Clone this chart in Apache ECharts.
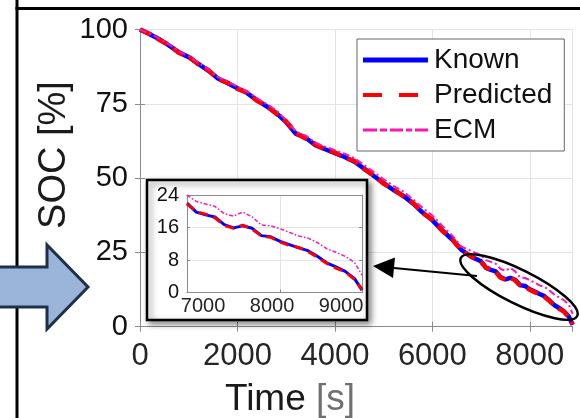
<!DOCTYPE html>
<html><head><meta charset="utf-8">
<script src="https://cdn.jsdelivr.net/npm/echarts@6/dist/echarts.min.js"></script>
<style>html,body{margin:0;padding:0;background:#fff}#c{width:580px;height:418px}</style>
</head><body><div id="c"></div>
<script>
const times = [0,200,400,600,800,1000,1200,1400,1600,1800,2000,2200,2400,2600,2800,3000,3200,3400,3600,3800,4000,4200,4400,4600,4800,5000,5200,5400,5600,5800,6000,6200,6400,6600,6800,
  7000,7100,7200,7300,7400,7500,7600,7700,7800,7900,8000,8100,8200,8300,8400,8500,8600,8700,8800,8880];
const known = [100,98.4,96.7,94.6,92.3,90.7,88.4,86.2,83.5,81.9,80.2,78.6,76.2,74.1,71.9,68.8,64.9,63.6,61.1,59.7,58.4,57.1,55.5,53.2,50.7,48.3,46.0,44.1,41.5,38.4,35.8,32.5,29.4,25.8,23.5,
  22.0,19.8,19.1,18.6,16.7,15.9,16.4,15.8,14.0,13.7,12.6,11.8,11.0,10.3,8.9,7.3,6.3,5.2,3.4,0.6];
const predicted = [100,98.5,96.5,94.8,92.1,90.9,88.2,86.4,83.3,82.1,80.0,78.8,76.0,74.3,71.6,69.1,65.2,63.3,61.4,59.5,58.6,56.8,55.8,53.0,50.9,48.1,46.3,43.9,41.8,38.2,36.1,32.3,29.7,25.5,23.7,
  21.8,19.9,19.3,18.4,16.5,15.8,16.6,15.6,13.9,13.6,12.4,11.6,11.1,10.1,8.7,7.2,6.0,5.1,3.2,0.8];
const ecm = [100,98.6,96.9,94.9,92.6,91.0,88.8,86.6,84.0,82.4,80.8,79.2,76.9,74.9,72.8,69.4,65.6,64.3,61.9,60.6,59.4,58.2,56.7,54.4,52.0,49.6,47.4,45.5,42.9,40.0,37.4,34.0,30.8,26.9,25.5,
  24.0,22.4,21.8,21.2,19.4,18.8,19.8,18.6,16.6,16.4,15.7,14.8,13.9,13.4,12.3,10.8,9.9,8.9,7.4,4.3];
const mainXTicks = [0,2000,4000,6000,8000];
const mainYTicks = [0,25,50,75,100];
const insetXLabels = [7000,8000,9000];
const insetYTicks = [0,8,16,24];
const insetStart = 7000;

const pairs = v => times.map((t,i)=>[t,v[i]]);
const insetPairs = v => times.map((t,i)=>[t,v[i]]).filter(p=>p[0]>=insetStart);

const FONT = "'Liberation Sans', Arial, sans-serif";
const GRAY = '#8c8c8c';
const SPLIT = '#e4e4e4';
const BLUE = '#0000ff', RED = '#ff0000', MAG = '#ff14b4';

const chart = echarts.init(document.getElementById('c'), null, {renderer:'canvas'});

function boxAxis(extra){
  return Object.assign({
    axisLine:{show:true,lineStyle:{color:GRAY,width:1}},
    axisTick:{show:true,inside:true,length:5,lineStyle:{color:GRAY}},
    axisLabel:{show:false},
    splitLine:{show:false}
  }, extra);
}

const tiny = 'M64.9,0h0.1v0.1h-0.1z';
const option = {
  animation:false,
  backgroundColor:'#fff',
  textStyle:{fontFamily:FONT},
  grid:[
    {left:140,top:29.5,right:7.3,bottom:91.3,containLabel:false},
    {left:187,top:195,width:175,height:97.5,containLabel:false,z:60}
  ],
  legend:{
    show:true, orient:'vertical', left:357, top:39, z:10,
    data:[
      {name:'Known',icon:'path://M0,0h65v5h-65z'},
      {name:'Predicted',icon:'path://M0,0h19v4h-19zM36,0h19v4h-19z'+tiny},
      {name:'ECM',icon:'path://M0,0h14v3h-14zM17,0h7v3h-7zM27,0h13v3h-13zM43,0h6v3h-6zM52,0h13v3h-13z'}
    ],
    itemWidth:65, itemHeight:22, itemGap:7,
    padding:[7,12,7,6],
    backgroundColor:'#fff', borderColor:'#666', borderWidth:1,
    textStyle:{fontFamily:FONT,fontSize:28,color:'#111',lineHeight:22,padding:[0,0,0,1]}
  },
  xAxis:[
    {type:'value',gridIndex:0,position:'bottom',min:0,max:8880,interval:2000,
     axisLine:{show:true,lineStyle:{color:GRAY}},
     axisTick:{show:true,inside:true,length:5,lineStyle:{color:GRAY}},
     axisLabel:{show:true,fontSize:31,color:'#262626',margin:14,fontFamily:FONT,showMaxLabel:false,
       formatter:v=>mainXTicks.indexOf(v)>=0?String(v):''},
     splitLine:{show:true,lineStyle:{color:SPLIT,width:1}}},
    boxAxis({type:'value',gridIndex:0,position:'top',min:0,max:8880,interval:2000}),
    {type:'value',gridIndex:1,position:'bottom',min:7000,max:8880,interval:1000,z:60,
     axisLine:{show:true,lineStyle:{color:GRAY}},
     axisTick:{show:true,inside:true,length:3,lineStyle:{color:GRAY}},
     axisLabel:{show:false},
     splitLine:{show:true,lineStyle:{color:SPLIT,width:1}}},
    {type:'value',gridIndex:1,position:'bottom',min:6768,max:9304,z:60,
     axisLine:{show:false},axisTick:{show:false},splitLine:{show:false},
     axisLabel:{show:true,customValues:insetXLabels,fontSize:20,color:'#262626',margin:4,fontFamily:FONT,
       formatter:v=>String(v)}},
    boxAxis({type:'value',gridIndex:1,position:'top',min:7000,max:8880,interval:1000,z:60,axisTick:{show:false}})
  ],
  yAxis:[
    {type:'value',gridIndex:0,position:'left',min:0,max:100,interval:25,
     axisLine:{show:true,lineStyle:{color:GRAY}},
     axisTick:{show:true,inside:true,length:5,lineStyle:{color:GRAY}},
     axisLabel:{show:true,fontSize:29,color:'#111',margin:12,fontFamily:FONT,
       formatter:v=>mainYTicks.indexOf(v)>=0?String(v):''},
     splitLine:{show:true,lineStyle:{color:SPLIT,width:1}}},
    boxAxis({type:'value',gridIndex:0,position:'right',min:0,max:100,interval:25}),
    {type:'value',gridIndex:1,position:'left',min:0,max:24,interval:8,z:60,
     axisLine:{show:true,lineStyle:{color:GRAY}},
     axisTick:{show:true,inside:true,length:3,lineStyle:{color:GRAY}},
     axisLabel:{show:true,fontSize:20,color:'#111',margin:8,fontFamily:FONT,
       formatter:v=>insetYTicks.indexOf(v)>=0?String(v):''},
     splitLine:{show:true,lineStyle:{color:SPLIT,width:1}}},
    boxAxis({type:'value',gridIndex:1,position:'right',min:0,max:24,interval:8,z:60,axisTick:{show:true,inside:true,length:3,lineStyle:{color:GRAY}}})
  ],
  series:[
    {name:'Known',type:'line',xAxisIndex:0,yAxisIndex:0,data:pairs(known),showSymbol:false,symbol:'none',
     lineStyle:{color:BLUE,width:4.5},itemStyle:{color:BLUE},z:2},
    {name:'Predicted',type:'line',xAxisIndex:0,yAxisIndex:0,data:pairs(predicted),showSymbol:false,symbol:'none',
     lineStyle:{color:RED,width:4.5,type:[12,7]},itemStyle:{color:RED},z:3},
    {name:'ECM',type:'line',xAxisIndex:0,yAxisIndex:0,data:pairs(ecm),showSymbol:false,symbol:'none',
     lineStyle:{color:MAG,width:2,type:[7,3,2,3]},itemStyle:{color:MAG},z:4},
    {name:'Known',type:'line',xAxisIndex:2,yAxisIndex:2,data:insetPairs(known),showSymbol:false,symbol:'none',
     lineStyle:{color:BLUE,width:3},itemStyle:{color:BLUE},z:70},
    {name:'Predicted',type:'line',xAxisIndex:2,yAxisIndex:2,data:insetPairs(predicted),showSymbol:false,symbol:'none',
     lineStyle:{color:RED,width:3,type:[9,6]},itemStyle:{color:RED},z:71},
    {name:'ECM',type:'line',xAxisIndex:2,yAxisIndex:2,data:insetPairs(ecm),showSymbol:false,symbol:'none',
     lineStyle:{color:MAG,width:1.5,type:[4,2,1.5,2]},itemStyle:{color:MAG},z:72}
  ],
  graphic:[
    {type:'line',shape:{x1:17,y1:0,x2:17,y2:418},style:{stroke:'#000',lineWidth:3},z:1},
    {type:'line',shape:{x1:15.5,y1:8.5,x2:580,y2:8.5},style:{stroke:'#000',lineWidth:3},z:1},
    {type:'polygon',shape:{points:[[-5,267],[47,267],[47,245],[88,287],[47,329],[47,307],[-5,307]]},
     style:{fill:'#9bb5da',stroke:'#1e3148',lineWidth:3},z:5},
    {type:'rect',shape:{x:147,y:180,width:220,height:140},
     style:{fill:'#fff',stroke:'#000',lineWidth:2.5,shadowColor:'rgba(0,0,0,0.45)',shadowBlur:6,shadowOffsetX:3,shadowOffsetY:3},z:50},
    {type:'ellipse',shape:{cx:519,cy:287,rx:65,ry:17},rotation:-26.5*Math.PI/180,originX:519,originY:287,
     style:{fill:'none',stroke:'#000',lineWidth:2.5},z:80},
    {type:'line',shape:{x1:477,y1:276,x2:394,y2:268},style:{stroke:'#000',lineWidth:2},z:80},
    {type:'polygon',shape:{points:[[373,266],[395,257.5],[393,278]]},style:{fill:'#000'},z:80},
    {type:'text',x:290,y:400,style:{text:'{a|Time }{b|[s]}',align:'center',verticalAlign:'middle',
      rich:{a:{fontSize:37,fontFamily:FONT,fill:'#1a1a1a'},b:{fontSize:37,fontFamily:FONT,fill:'#707070'}}},z:5},
    {type:'text',x:55,y:155,rotation:Math.PI/2,style:{text:'SOC [%]',align:'center',verticalAlign:'middle',
      fontSize:38,fontFamily:FONT,fill:'#1a1a1a'},z:5}
  ]
};
chart.setOption(option);
</script>
</body></html>
